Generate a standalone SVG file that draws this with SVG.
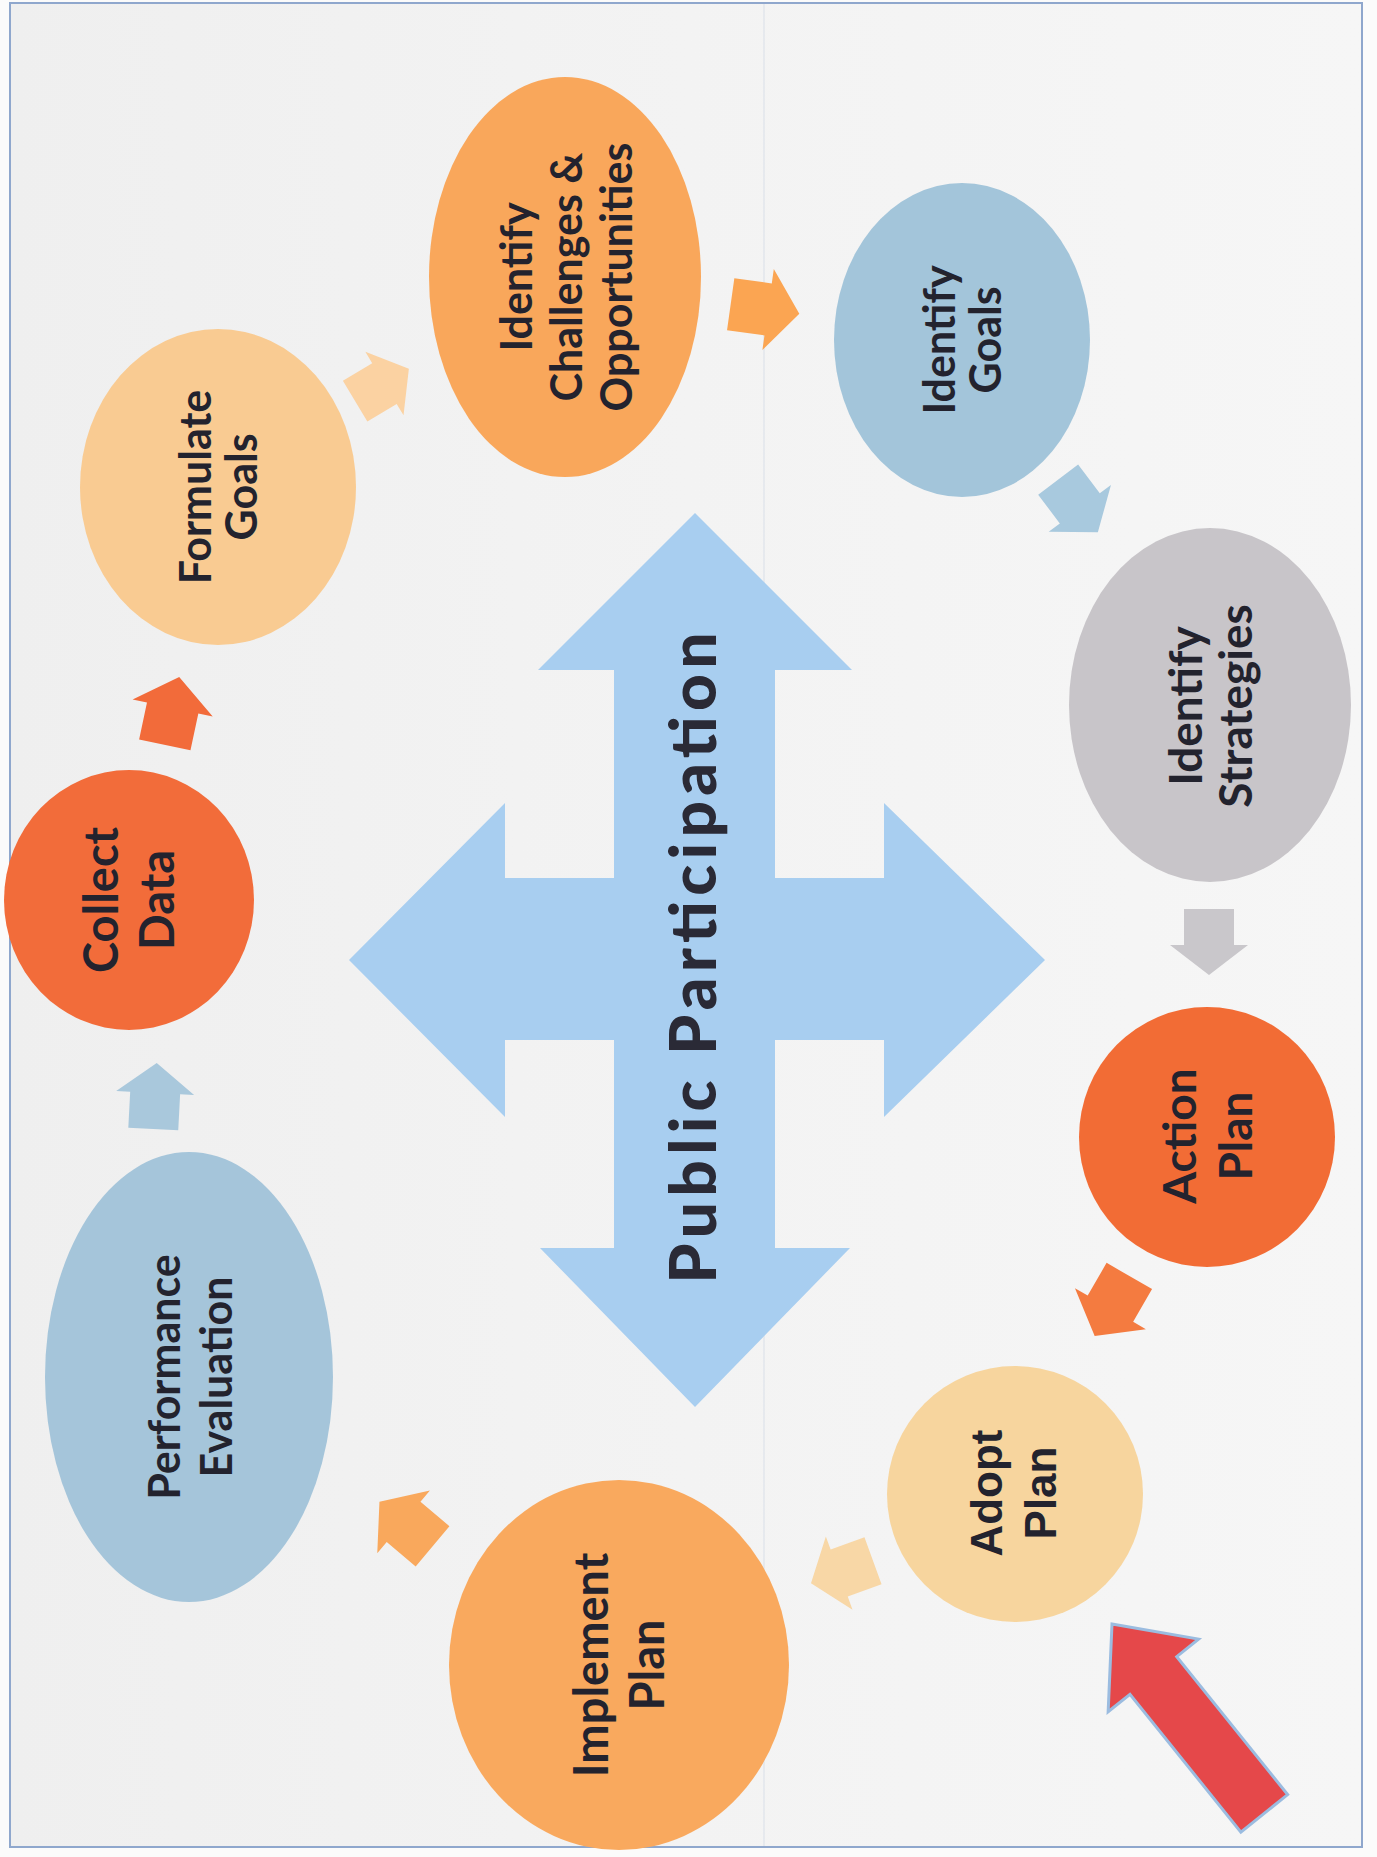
<svg xmlns="http://www.w3.org/2000/svg" width="1377" height="1857" viewBox="0 0 1377 1857">
  <style>
    .lbl { font-family: Lato, "Open Sans", "Liberation Sans", sans-serif; font-weight: 700; fill: #23232E; text-anchor: middle; }
    .lbl-arial { font-family: "Liberation Sans", Arial, sans-serif; font-weight: 700; fill: #23232E; text-anchor: middle; }
    .title { font-family: Lato, "Open Sans", "Liberation Sans", sans-serif; font-weight: 900; fill: #2A2A36; text-anchor: middle; }
  </style>
  <defs>
    <!-- small block arrow, pointing up, centred on the origin -->
    <path id="step" d="M0,-33 L39,-3 L25,-3 L25,33 L-25,33 L-25,-3 L-39,-3 Z"/>
    <linearGradient id="paper" x1="0" y1="0" x2="1" y2="0">
      <stop offset="0" stop-color="#EFEFEF"/>
      <stop offset="0.5" stop-color="#F3F3F3"/>
      <stop offset="1" stop-color="#F6F6F6"/>
    </linearGradient>
  </defs>

  <!-- page -->
  <rect x="0" y="0" width="1377" height="1857" fill="#FBFBFB"/>
  <rect x="10" y="3" width="1352" height="1844" fill="url(#paper)" stroke="#8FA7CD" stroke-width="2"/>
  <line x1="764" y1="4" x2="764" y2="1846" stroke="#C9D3E2" stroke-width="1" opacity="0.6"/>

  <!-- central quad arrow -->
  <g id="public-participation">
    <path fill="#A8CEF0" d="M695,513 L852,670 L775,670 L775,878 L884,878 L884,803 L1045,960 L884,1117 L884,1040 L775,1040 L775,1248 L850,1248 L695,1407 L540,1248 L614,1248 L614,1040 L505,1040 L505,1117 L349,960 L505,803 L505,878 L614,878 L614,670 L538,670 Z"/>
    <text class="title" transform="translate(695,958) rotate(-90)" x="0" y="21" font-size="64" textLength="651" lengthAdjust="spacing">Public Participation</text>
  </g>

  <!-- connectors between the steps -->
  <g id="connectors">
    <use href="#step" fill="#A9C8DC" transform="translate(155,1096) rotate(3)"/>
    <use href="#step" fill="#F26B3A" transform="translate(172,711) rotate(12) scale(1.05)"/>
    <use href="#step" fill="#FBD2A2" transform="translate(382,385) rotate(59) scale(0.95)"/>
    <use href="#step" fill="#FBA552" transform="translate(765,309) rotate(98) scale(1.05)"/>
    <use href="#step" fill="#A8C9DE" transform="translate(1078,506) rotate(143)"/>
    <use href="#step" fill="#C9C7CB" transform="translate(1209,942) rotate(180)"/>
    <use href="#step" fill="#F47B40" transform="translate(1112,1306) rotate(210) scale(1.05)"/>
    <use href="#step" fill="#F8D7A6" transform="translate(842,1572) rotate(250)"/>
    <use href="#step" fill="#F9A85C" transform="translate(406,1524) rotate(310) scale(1.05)"/>
    <!-- entry pointer -->
    <path fill="#E5484A" stroke="#9BBCE0" stroke-width="3" stroke-linejoin="miter" transform="translate(1112,1624) rotate(-38.8)" d="M0,0 L58,66 L30,66 L30,243 L-30,243 L-30,66 L-58,66 Z"/>
  </g>

  <g id="collect-data">
    <ellipse cx="129" cy="900" rx="125" ry="130" fill="#F26C3A"/>
    <text class="lbl" font-size="47" transform="translate(129,900) rotate(-90)"><tspan x="0" y="-11">Collect</tspan><tspan x="0" y="45">Data</tspan></text>
  </g>

  <g id="formulate-goals">
    <ellipse cx="218" cy="487" rx="138" ry="158" fill="#F9CB92"/>
    <text class="lbl" font-size="43" transform="translate(218,487) rotate(-90)"><tspan x="0" y="-7.5">Formulate</tspan><tspan x="0" y="38.5">Goals</tspan></text>
  </g>

  <g id="identify-challenges">
    <ellipse cx="565" cy="277" rx="136" ry="200" fill="#F9A75B"/>
    <text class="lbl" font-size="43" transform="translate(566,277) rotate(-90)"><tspan x="0" y="-34.5">Identify</tspan><tspan x="0" y="15.5">Challenges &amp;</tspan><tspan x="0" y="65.5">Opportunities</tspan></text>
  </g>

  <g id="identify-goals">
    <ellipse cx="962" cy="340" rx="128" ry="157" fill="#A3C5DA"/>
    <text class="lbl" font-size="43" transform="translate(962,340) rotate(-90)"><tspan x="0" y="-7.5">Identify</tspan><tspan x="0" y="38.5">Goals</tspan></text>
  </g>

  <g id="identify-strategies">
    <ellipse cx="1210" cy="705" rx="141" ry="177" fill="#C8C5C9"/>
    <text class="lbl" font-size="46" transform="translate(1210,706) rotate(-90)"><tspan x="0" y="-8.5">Identify</tspan><tspan x="0" y="41.5">Strategies</tspan></text>
  </g>

  <g id="action-plan">
    <ellipse cx="1207" cy="1137" rx="128" ry="130" fill="#F26C35"/>
    <text class="lbl" font-size="46" transform="translate(1207,1136) rotate(-90)"><tspan x="0" y="-11.5">Action</tspan><tspan x="0" y="44.5">Plan</tspan></text>
  </g>

  <g id="adopt-plan">
    <ellipse cx="1015" cy="1494" rx="128" ry="128" fill="#F7D59E"/>
    <text class="lbl-arial" font-size="44" transform="translate(1013,1493) rotate(-90)"><tspan x="0" y="-11">Adopt</tspan><tspan x="0" y="43">Plan</tspan></text>
  </g>

  <g id="implement-plan">
    <ellipse cx="619" cy="1665" rx="170" ry="185" fill="#F9A95E"/>
    <text class="lbl" font-size="47" transform="translate(619,1665) rotate(-90)"><tspan x="0" y="-11">Implement</tspan><tspan x="0" y="45">Plan</tspan></text>
  </g>

  <g id="performance-evaluation">
    <ellipse cx="189" cy="1377" rx="144" ry="225" fill="#A5C5DA"/>
    <text class="lbl" font-size="43" transform="translate(190,1377) rotate(-90)"><tspan x="0" y="-10.5">Performance</tspan><tspan x="0" y="41.5">Evaluation</tspan></text>
  </g>
</svg>
